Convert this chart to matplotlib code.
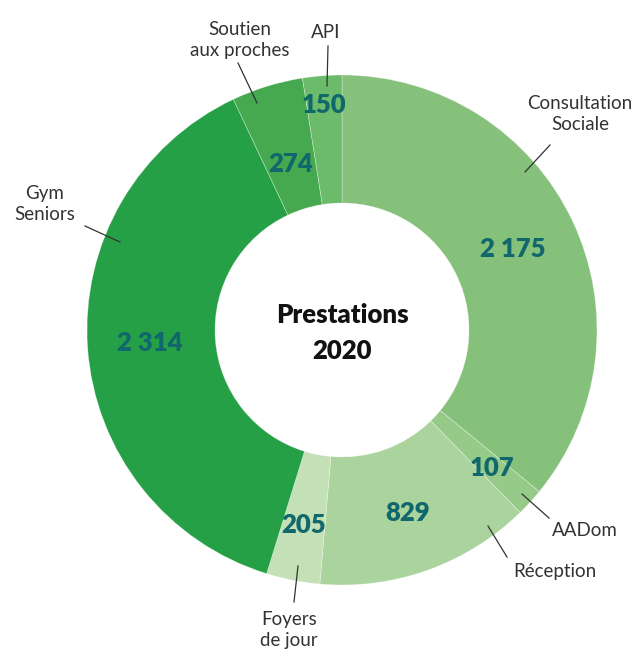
import numpy as np
import matplotlib as mpl

mpl.use("Agg")

import matplotlib.pyplot as plt

# data, clockwise from 12 o'clock
categories = ["Consultation\nSociale", "AADom", "Réception", "Foyers\nde jour",
              "Gym\nSeniors", "Soutien\naux proches", "API"]
values = [2175, 107, 829, 205, 2314, 274, 150]
value_labels = ["2 175", "107", "829", "205", "2 314", "274", "150"]
colors = ["#86c17b", "#96ca89", "#abd39d", "#c4e0b6", "#26a046", "#47a94f", "#6cbb6a"]

# layout (pixel coords, y from top)
W, H = 639, 650
CX, CY = 342, 330
R_OUT, R_IN = 255, 127
value_radius = [0.74, 0.80, 0.76, 0.78, 0.755, 0.68, 0.885]
# text position, line start, line end
callouts = [
    ((580, 114), (525, 172), (550, 145)),
    ((585, 531), (522, 494), (549, 518)),
    ((555, 572), (488, 526), (507, 557)),
    ((289, 630), (298, 566), (294, 602)),
    ((45, 204), (120, 242), (85, 226)),
    ((240, 40), (257, 103), (238, 63)),
    ((326, 33), (327, 86), (328, 46)),
]

plt.rcParams["font.family"] = ["Lato", "DejaVu Sans"]


def px(x, y):
    return x, H - y


fig = plt.figure(figsize=(W / 100, H / 100), dpi=100)
ax = fig.add_axes([0, 0, 1, 1])
ax.set_xlim(0, W)
ax.set_ylim(0, H)
ax.set_aspect("equal")
ax.axis("off")

wedges, _ = ax.pie(
    values,
    colors=colors,
    startangle=90,
    counterclock=False,
    radius=R_OUT,
    center=px(CX, CY),
    wedgeprops=dict(width=R_OUT - R_IN, edgecolor=(1, 1, 1, 0.5), linewidth=0.4),
)
ax.set_xlim(0, W)
ax.set_ylim(0, H)

cx, cy = px(CX, CY)
for w, lab, rf in zip(wedges, value_labels, value_radius):
    ang = np.deg2rad((w.theta1 + w.theta2) / 2)
    ax.text(cx + rf * R_OUT * np.cos(ang), cy + rf * R_OUT * np.sin(ang), lab,
            ha="center", va="center", fontsize=18.5, fontweight="heavy", color="#10676c")

for cat, (tpos, p0, p1) in zip(categories, callouts):
    ax.plot([p0[0], p1[0]], [H - p0[1], H - p1[1]], color="#333333", lw=0.9)
    ax.text(*px(*tpos), cat, ha="center", va="center", fontsize=13.5,
            color="#333333", linespacing=1.25)

ax.text(cx, cy - 3, "Prestations\n2020", ha="center", va="center", fontsize=18.5,
        fontweight="heavy", color="#111111", linespacing=1.6)

fig.savefig("out.png", dpi=100)
